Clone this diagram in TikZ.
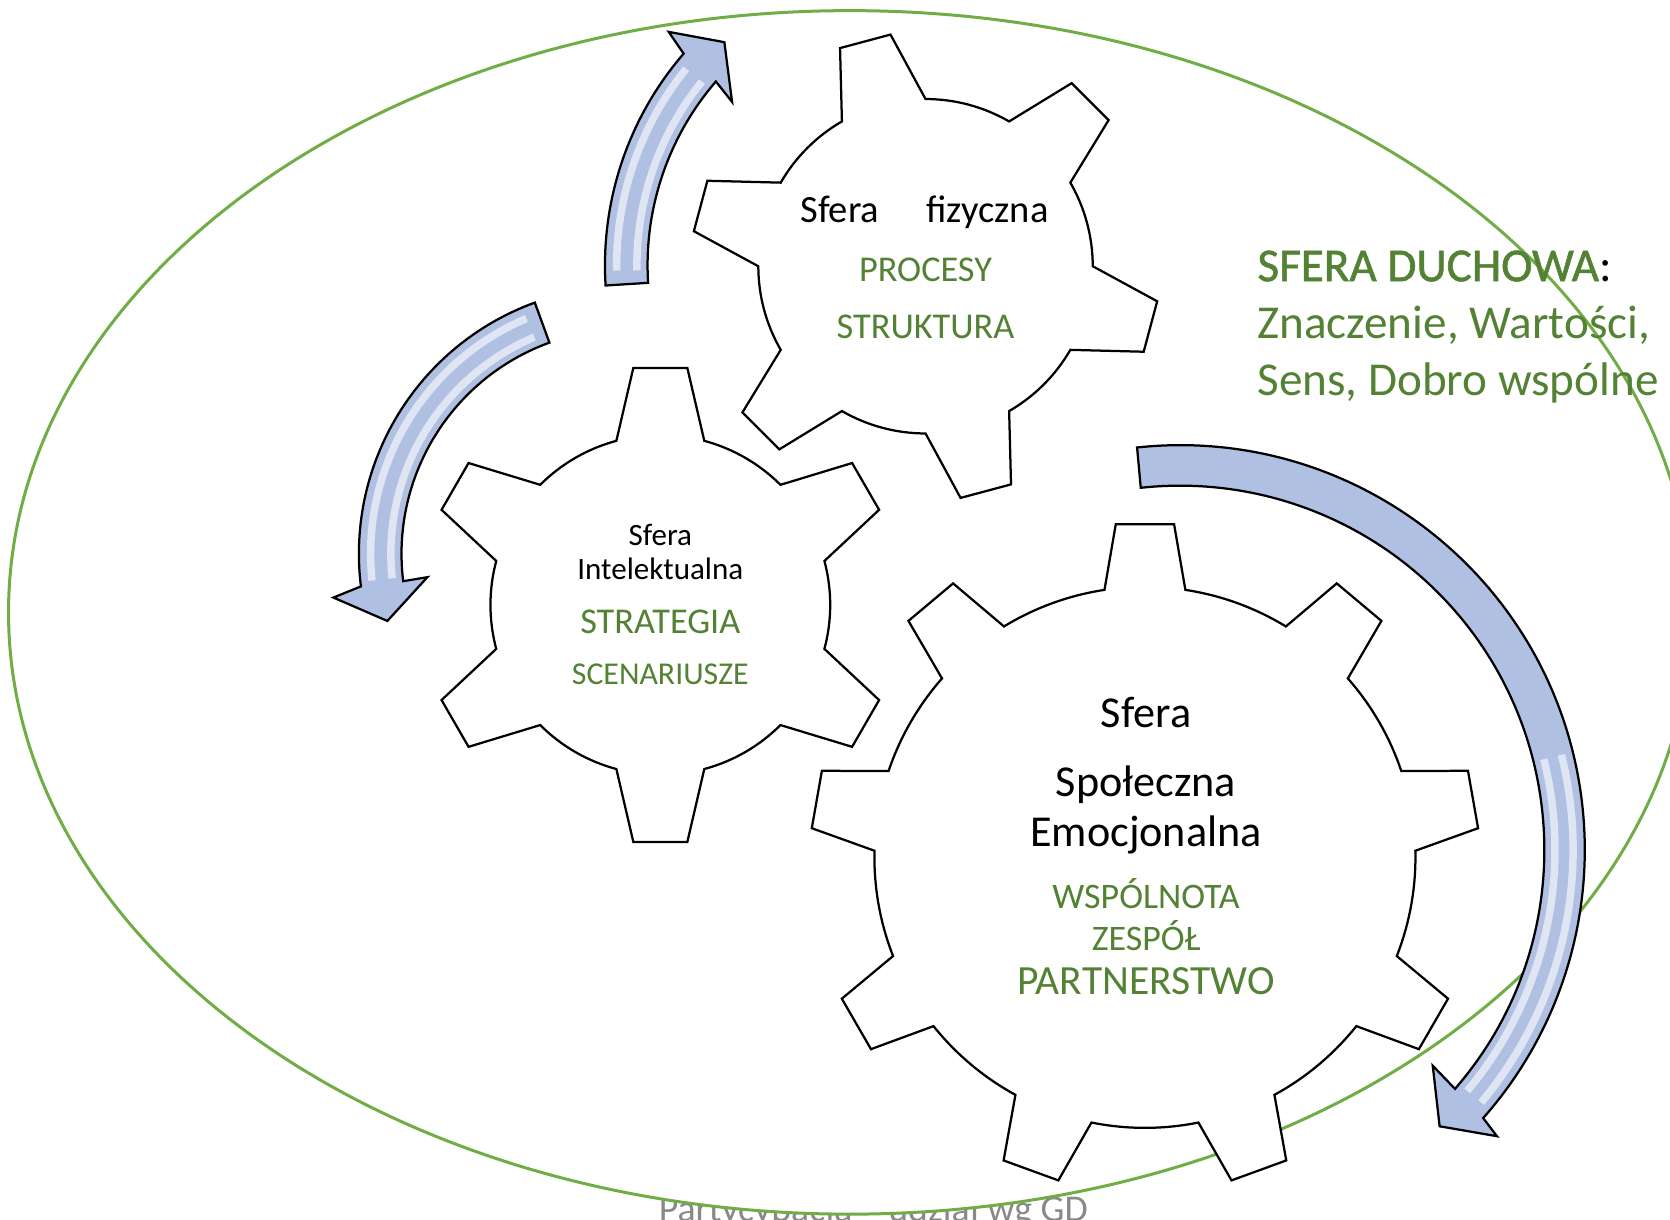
\documentclass[tikz,border=0pt]{standalone}
\usepackage{fontspec}
\setmainfont{Carlito}
\definecolor{leafgreen}{RGB}{84,130,53}
\definecolor{ringgreen}{RGB}{112,173,71}
\definecolor{arrowblue}{RGB}{176,192,226}
\definecolor{notegray}{RGB}{137,137,137}

\begin{document}
\begin{tikzpicture}[x=0.1mm, y=0.1mm,
    gearline/.style={draw=black, line width=0.6pt, fill=white, line join=miter},
    bentarrow/.style={draw=black, line width=0.6pt, fill=arrowblue, line join=miter},
    glint/.style={draw=white, line width=2pt, opacity=0.6},
    dark/.style={text=black, inner sep=0pt, anchor=base},
    leaf/.style={text=leafgreen, inner sep=0pt, anchor=base}]
  \useasboundingbox (0,0) rectangle (1568,1145);
  \clip (0,0) rectangle (1568,1145);
  % 1) caption under the ring (its white fill hides most of it)
  \node[text=notegray, inner sep=0pt, anchor=base, font=\fontsize{10.1}{12}\selectfont]
       (note) at (820,-2) {Partycypacja – udział wg GD};
  % 2) green ring round everything
  \draw[ringgreen, line width=0.8pt, fill=white] (798,570) ellipse [x radius=790, y radius=565];
  % 3) gear centres
  \coordinate (fizC) at (869,895);
  \coordinate (intC) at (620,577);
  \coordinate (spoC) at (1075,340);
  % 4) physical sphere gear: 6 teeth, turned by 15 degrees
  \draw[gearline, shift={(fizC)}] (150:157)
       \foreach \a in {165,225,...,465}
       {-- (\a-6.4:220) -- (\a+6.4:220) -- (\a+15:157) arc[start angle=\a+15, end angle=\a+45, radius=157]} -- cycle;
  % 5) intellectual sphere gear: 6 teeth
  \draw[gearline, shift={(intC)}] (75:159.5)
       \foreach \a in {90,150,...,390}
       {-- (\a-6.5:224) -- (\a+6.5:224) -- (\a+15:159.5) arc[start angle=\a+15, end angle=\a+45, radius=159.5]} -- cycle;
  % 6) social sphere gear: 9 teeth
  \draw[gearline, shift={(spoC)}] (81.4:254)
       \foreach \a in {90,130,...,410}
       {-- (\a-5:314) -- (\a+5:314) -- (\a+8.6:254) arc[start angle=\a+8.6, end angle=\a+31.4, radius=254]} -- cycle;
  % 7) curved arrows (centre, ring body, head)
  \coordinate (arcA) at (872,896);
  \coordinate (arcB) at (588,625);
  \coordinate (arcC) at (1108,347);
  \draw[bentarrow, shift={(arcA)}] (183.6:304) arc[start angle=183.6, end angle=139.2, radius=304]
       -- (138.1:328) -- (132.5:284) -- (140.3:240) -- (139.2:264)
       arc[start angle=139.2, end angle=183.6, radius=264] -- cycle;
  \draw[glint, shift={(arcA)}] (181:274) arc[start angle=181, end angle=141, radius=274];
  \draw[glint, shift={(arcA)}] (181:293) arc[start angle=181, end angle=141, radius=293];
  \draw[bentarrow, shift={(arcB)}] (110:251) arc[start angle=110, end angle=187, radius=251]
       -- (188.5:278) -- (195.7:233) -- (186.7:188) -- (187:211)
       arc[start angle=187, end angle=110, radius=211] -- cycle;
  \draw[glint, shift={(arcB)}] (113:221) arc[start angle=113, end angle=186, radius=221];
  \draw[glint, shift={(arcB)}] (113:240) arc[start angle=113, end angle=186, radius=240];
  \draw[bentarrow, shift={(arcC)}] (96.1:380) arc[start angle=96.1, end angle=-41.5, radius=380]
       -- (-42.1:401) -- (-46.8:356) -- (-40.5:312) -- (-41:342)
       arc[start angle=-41, end angle=96.2, radius=342] -- cycle;
  \draw[glint, shift={(arcC)}] (14:352) arc[start angle=14, end angle=-40, radius=352];
  \draw[glint, shift={(arcC)}] (14:369) arc[start angle=14, end angle=-40, radius=369];
  % 8) labels of the physical sphere
  \node[dark, font=\fontsize{10.3}{12}\selectfont] (fizName) at (868,936) {Sfera\hspace{4.4mm}fizyczna};
  \node[leaf, font=\fontsize{9.7}{12}\selectfont] (fizProc) at (869,881) {PROCESY};
  \node[leaf, font=\fontsize{9.7}{12}\selectfont] (fizStruct) at (869,827) {STRUKTURA};
  % 9) labels of the intellectual sphere
  \node[dark, font=\fontsize{8.3}{10}\selectfont] (intName) at (620,633) {Sfera};
  \node[dark, font=\fontsize{8.3}{10}\selectfont] (intName2) at (620,601) {Intelektualna};
  \node[leaf, font=\fontsize{9.7}{12}\selectfont] (intStrat) at (620,550) {STRATEGIA};
  \node[leaf, font=\fontsize{8.5}{10}\selectfont] (intScen) at (620,502) {SCENARIUSZE};
  % 10) labels of the social sphere
  \node[dark, font=\fontsize{11.8}{14}\selectfont] (spoName) at (1076,462) {Sfera};
  \node[dark, font=\fontsize{11.8}{14}\selectfont] (spoName2) at (1076,397) {Społeczna};
  \node[dark, font=\fontsize{11.8}{14}\selectfont] (spoName3) at (1076,350) {Emocjonalna};
  \node[leaf, font=\fontsize{9.6}{12}\selectfont] (spoWsp) at (1076,292) {WSPÓLNOTA};
  \node[leaf, font=\fontsize{9.6}{12}\selectfont] (spoZesp) at (1076,253) {ZESPÓŁ};
  \node[leaf, font=\fontsize{11.1}{13}\selectfont] (spoPart) at (1076,211) {PARTNERSTWO};
  % 11) spiritual sphere, outside the gears
  \node[dark, anchor=base west, font=\fontsize{12.6}{15}\selectfont] (duchHead) at (1180,881)
       {\textcolor{leafgreen}{\addfontfeatures{FakeBold=1.2}SFERA DUCHOWA}:};
  \node[leaf, anchor=base west, font=\fontsize{12.6}{15}\selectfont] (duchLine1) at (1180,827) {Znaczenie, Wartości,};
  \node[leaf, anchor=base west, font=\fontsize{12.6}{15}\selectfont] (duchLine2) at (1180,774) {Sens, Dobro wspólne};
\end{tikzpicture}
\end{document}
